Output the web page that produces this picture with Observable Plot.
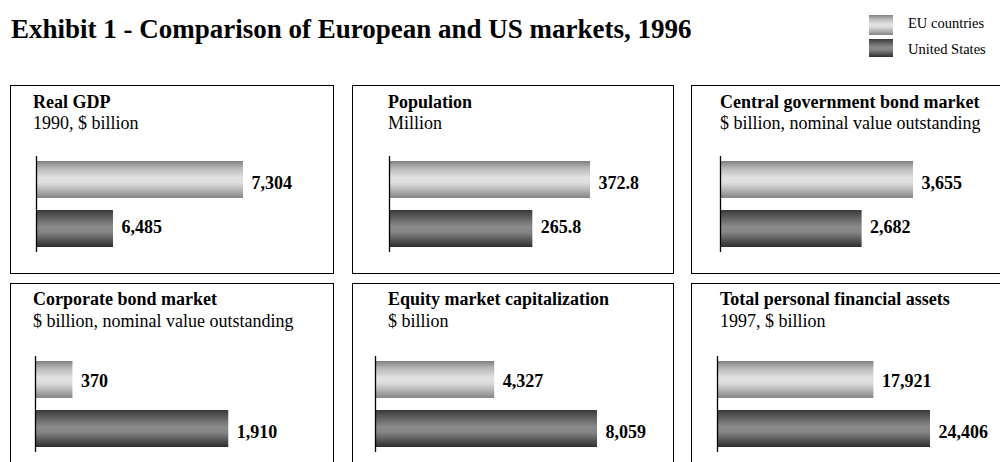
<!DOCTYPE html>
<html>
<head>
<meta charset="utf-8">
<script src="https://cdn.jsdelivr.net/npm/d3@7"></script>
<script src="https://cdn.jsdelivr.net/npm/@observablehq/plot@0.6"></script>
<style>
  html, body { margin: 0; padding: 0; background: #fff; overflow: hidden; }
  body { width: 1000px; height: 462px; position: relative;
         font-family: "Liberation Serif", "Times New Roman", serif; color: #000; }
  #page { position: absolute; left: 0; top: 0; width: 1000px; height: 462px; overflow: hidden; }
  .abs { position: absolute; white-space: nowrap; line-height: 1; }
  #title { left: 11px; top: 16.4px; font-size: 27px; font-weight: bold; }
  .swatch { position: absolute; left: 869px; width: 24px; }
  .leglab { font-size: 14.5px; left: 908px; }
  .panel { position: absolute; border: 1px solid #000; box-sizing: border-box; overflow: hidden; background: #fff; }
  .ptitle { font-size: 18px; font-weight: bold; }
  .psub { font-size: 18px; }
  .panel svg { position: absolute; left: 0; top: 0; max-width: none !important; }
</style>
</head>
<body>
<svg width="0" height="0" style="position:absolute;left:0;top:0">
  <defs>
    <linearGradient id="gEU" x1="0" y1="0" x2="0" y2="1">
      <stop offset="0" stop-color="#808080"/>
      <stop offset="0.18" stop-color="#b4b4b4"/>
      <stop offset="0.45" stop-color="#e2e2e2"/>
      <stop offset="0.6" stop-color="#dcdcdc"/>
      <stop offset="0.85" stop-color="#a6a6a6"/>
      <stop offset="1" stop-color="#858585"/>
    </linearGradient>
    <linearGradient id="gUS" x1="0" y1="0" x2="0" y2="1">
      <stop offset="0" stop-color="#3a3a3a"/>
      <stop offset="0.2" stop-color="#5e5e5e"/>
      <stop offset="0.45" stop-color="#8a8a8a"/>
      <stop offset="0.6" stop-color="#858585"/>
      <stop offset="0.85" stop-color="#4f4f4f"/>
      <stop offset="1" stop-color="#2e2e2e"/>
    </linearGradient>
  </defs>
</svg>
<div id="page">
<div id="title" class="abs">Exhibit 1 - Comparison of European and US markets, 1996</div>
<div id="legend"></div>
<div id="panels"></div>
</div>
<script>
// ---- data ----
const panelTitles = ["Real GDP", "Population", "Central government bond market",
  "Corporate bond market", "Equity market capitalization", "Total personal financial assets"];
const panelSubtitles = ["1990, $ billion", "Million", "$ billion, nominal value outstanding",
  "$ billion, nominal value outstanding", "$ billion", "1997, $ billion"];
const series = ["EU countries", "United States"];
const euValues = [7304, 372.8, 3655, 370, 4327, 17921];
const usValues = [6485, 265.8, 2682, 1910, 8059, 24406];
const valueFormats = [",", ".1f", ",", ",", ",", ","];
const axisDomains = [[6000, 7871], [0, 526.7], [0, 5530], [0, 2945], [0, 10817], [0, 33803]];

// ---- layout ----
const colLeft = [10, 352, 691];
const colWidth = [324, 322, 322];
const boxWidth = [324, 322, 330];
const rowTop = [85, 283];
const panelHeight = 189;
const titleLeft = [22, 35, 28];
const axisLeft = [25, 36, 28, 24, 22, 25];
const rowMarginTop = [70, 72];
const labelDy = [[3.5, -2], [1.5, 3.5]];
const fills = ["url(#gEU)", "url(#gUS)"];
const legendGrad = [
  "linear-gradient(#808080 0%, #b4b4b4 18%, #e2e2e2 45%, #dcdcdc 60%, #a6a6a6 85%, #858585 100%)",
  "linear-gradient(#3a3a3a 0%, #5e5e5e 20%, #8a8a8a 45%, #858585 60%, #4f4f4f 85%, #2e2e2e 100%)"
];

// legend
const legend = document.getElementById("legend");
[[15, 20, 15.9], [39, 18, 41.9]].forEach(([top, h, ltop], i) => {
  const sw = document.createElement("div");
  sw.className = "swatch";
  sw.style.top = top + "px";
  sw.style.height = h + "px";
  sw.style.background = legendGrad[i];
  legend.appendChild(sw);
  const lab = document.createElement("div");
  lab.className = "abs leglab";
  lab.style.top = ltop + "px";
  lab.textContent = series[i];
  legend.appendChild(lab);
});

const panels = document.getElementById("panels");
panelTitles.forEach((t, i) => {
  const col = i % 3, row = Math.floor(i / 3);
  const W = colWidth[col];
  const div = document.createElement("div");
  div.className = "panel";
  div.style.left = colLeft[col] + "px";
  div.style.top = rowTop[row] + "px";
  div.style.width = boxWidth[col] + "px";
  div.style.height = panelHeight + "px";

  const data = [
    {series: series[0], value: euValues[i]},
    {series: series[1], value: usValues[i]}
  ];
  const fmt = d3.format(valueFormats[i]);
  const x0 = axisDomains[i][0];
  const innerW = W - 2, innerH = panelHeight - 2;
  const mt = rowMarginTop[row];

  const marks = [];
  data.forEach((d, s) => {
    marks.push(Plot.barX([d], {x1: () => x0, x2: "value", y: "series", fill: fills[s]}));
  });
  marks.push(Plot.ruleX([x0], {stroke: "#000", strokeWidth: 1.3}));
  data.forEach((d, s) => {
    marks.push(Plot.text([d], {
      x: "value", y: "series", text: e => fmt(e.value),
      dx: 8, dy: labelDy[row][s], textAnchor: "start",
      fontWeight: "bold", fontSize: 18, fill: "#000"
    }));
  });

  const chart = Plot.plot({
    width: innerW,
    height: innerH,
    marginLeft: axisLeft[i],
    marginRight: 0,
    marginTop: mt,
    marginBottom: innerH - mt - 96,
    x: {domain: axisDomains[i], axis: null},
    y: {domain: series, axis: null, paddingInner: 0.245, paddingOuter: 0.102},
    style: {background: "transparent", overflow: "visible", maxWidth: "none",
            fontFamily: '"Liberation Serif", "Times New Roman", serif'},
    marks
  });
  div.appendChild(chart);

  const tt = document.createElement("div");
  tt.className = "abs ptitle";
  tt.style.left = titleLeft[col] + "px";
  tt.style.top = (row === 0 ? 6.9 : 5.9) + "px";
  tt.textContent = t;
  div.appendChild(tt);
  const st = document.createElement("div");
  st.className = "abs psub";
  st.style.left = titleLeft[col] + "px";
  st.style.top = "27.9px";
  st.textContent = panelSubtitles[i];
  div.appendChild(st);

  panels.appendChild(div);
});
</script>
</body>
</html>
